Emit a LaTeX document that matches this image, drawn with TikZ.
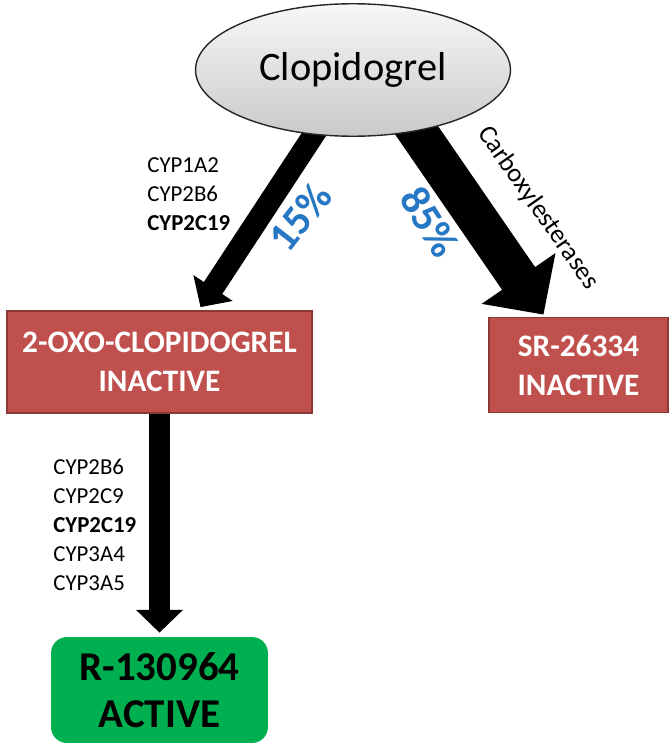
\documentclass[tikz,border=0pt]{standalone}
\usepackage{fontspec}
\setmainfont{Carlito}
\usetikzlibrary{arrows.meta,shapes.geometric,calc,backgrounds}

\definecolor{boxred}{RGB}{192,80,77}
\definecolor{boxredline}{RGB}{140,56,54}
\definecolor{actgreen}{RGB}{0,176,80}
\definecolor{pctblue}{RGB}{38,120,196}

\begin{document}
\begin{tikzpicture}[
  x=0.02cm, y=-0.02cm,
  every node/.style={align=center, inner sep=0pt},
  drug/.style={ellipse, draw=black!85, line width=0.8pt, top color=gray!6, bottom color=gray!42, minimum width=6.3cm, minimum height=2.65cm, font=\fontsize{23}{28}\selectfont},
  inact/.style={rectangle, draw=boxredline, line width=1pt, fill=boxred, text=white, font=\fontsize{17.8}{22.2}\selectfont\bfseries},
  act/.style={rectangle, rounded corners=0.32cm, fill=actgreen, minimum width=4.34cm, minimum height=2.12cm, font=\fontsize{23.3}{26.7}\selectfont\bfseries},
  enz/.style={align=left, anchor=west, font=\fontsize{13}{16.5}\selectfont},
  pct/.style={text=pctblue, font=\fontsize{24}{26}\selectfont\bfseries},
  minorflow/.style={line width=12.5pt, -{Triangle[width=26pt,length=13pt]}},
  majorflow/.style={line width=22.8pt, -{Triangle[width=49.5pt,length=25pt]}}
]
\useasboundingbox (0,0) rectangle (672,750);

\node[drug] (clop) at (353,70) {Clopidogrel};
\node[inact, minimum width=6.1cm, minimum height=2.04cm] (oxo) at (159.5,362) {2-OXO-CLOPIDOGREL\\INACTIVE};
\node[inact, minimum width=3.58cm, minimum height=1.9cm] (sr) at (578.5,365) {SR-26334\\INACTIVE};
\node[act] (rac) at (159.5,690) {R-130964\\ACTIVE};

\node[enz] (cyp1) at (147,194) {CYP1A2\\CYP2B6\\\textbf{CYP2C19}};
\node[enz] (cyp2) at (53,525) {CYP2B6\\CYP2C9\\\textbf{CYP2C19}\\CYP3A4\\CYP3A5};
\node[pct, rotate=52] (p15) at (300,217) {15\%};
\node[pct, rotate=-58] (p85) at (430,222) {85\%};
\node[rotate=-55, font=\fontsize{15}{18}\selectfont] (carbox) at (538,208) {Carboxylesterases};

% arrows go under the shapes
\begin{pgfonlayer}{background}
  \draw[minorflow] ($(clop.center)+(-27,46)$) -- ($(oxo.north)+(41,-3)$);
  \draw[majorflow] ($(clop.center)+(51,42)$) -- ($(sr.north)+(-35,-2)$);
  \draw[minorflow] (oxo.south) -- ($(rac.north)+(0,-4)$);
\end{pgfonlayer}

\end{tikzpicture}
\end{document}
